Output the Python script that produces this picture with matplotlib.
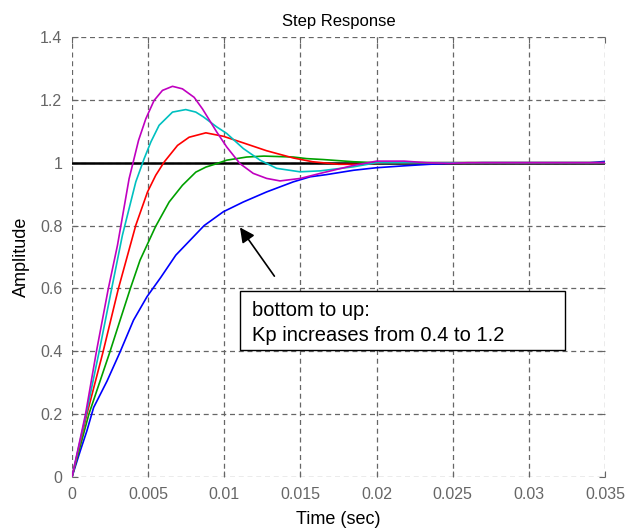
import matplotlib
matplotlib.use("Agg")
import matplotlib.pyplot as plt
from matplotlib.patches import Rectangle

plt.rcParams["font.family"] = ["Liberation Sans", "DejaVu Sans"]

# step responses, one per Kp value (bottom to top)
T_BLUE = [0, 0.00055, 0.00098, 0.00142, 0.0023, 0.00316, 0.00404, 0.00493, 0.00583, 0.00682,
          0.00868, 0.00994, 0.01125, 0.01278, 0.01453, 0.01563, 0.0167, 0.0185, 0.0200, 0.0218,
          0.0235, 0.0248, 0.027, 0.030, 0.034, 0.035]
Y_BLUE = [0, 0.084, 0.147, 0.221, 0.305, 0.398, 0.499, 0.574, 0.635, 0.706,
          0.800, 0.844, 0.875, 0.907, 0.939, 0.955, 0.962, 0.976, 0.984, 0.990,
          0.995, 0.998, 1.0, 1.0, 1.0, 1.004]

T_GREEN = [0, 0.00111, 0.00249, 0.00316, 0.00382, 0.00447, 0.00549, 0.00638, 0.00725, 0.00813,
           0.00879, 0.0095, 0.01016, 0.01147, 0.0126, 0.01453, 0.0154, 0.0165, 0.0185, 0.020, 0.035]
Y_GREEN = [0, 0.2, 0.398, 0.499, 0.598, 0.690, 0.797, 0.875, 0.928, 0.970,
           0.986, 0.997, 1.008, 1.018, 1.021, 1.018, 1.013, 1.010, 1.003, 1.0, 1.0]

T_RED = [0, 0.00098, 0.00204, 0.00304, 0.00419, 0.00496, 0.0055, 0.00605, 0.00693, 0.00769,
         0.00879, 0.00994, 0.01125, 0.01278, 0.01453, 0.0158, 0.0175, 0.019, 0.0205, 0.035]
Y_RED = [0, 0.2, 0.398, 0.598, 0.801, 0.907, 0.960, 1.002, 1.055, 1.081,
         1.095, 1.084, 1.063, 1.038, 1.015, 1.003, 0.995, 0.995, 1.0, 1.0]

T_CYAN = [0, 0.00093, 0.00178, 0.0026, 0.00331, 0.00375, 0.00419, 0.00474, 0.00518, 0.00572,
          0.0066, 0.00747, 0.00813, 0.00862, 0.0095, 0.01016, 0.01125, 0.01235, 0.01344, 0.01497,
          0.0163, 0.0185, 0.020, 0.035]
Y_CYAN = [0, 0.2, 0.398, 0.598, 0.769, 0.854, 0.939, 1.013, 1.066, 1.119,
          1.161, 1.169, 1.161, 1.146, 1.114, 1.093, 1.045, 1.008, 0.982, 0.971,
          0.974, 0.987, 1.0, 1.0]

T_MAGENTA = [0, 0.00089, 0.0016, 0.00238, 0.00299, 0.00375, 0.00401, 0.00437, 0.00485, 0.00539,
             0.00594, 0.0066, 0.00725, 0.00802, 0.00857, 0.0095, 0.01016, 0.01103, 0.0119, 0.01278,
             0.01366, 0.015, 0.0163, 0.01845, 0.020, 0.0218, 0.0233, 0.0248, 0.026, 0.035]
Y_MAGENTA = [0, 0.2, 0.398, 0.598, 0.738, 0.949, 1.0, 1.071, 1.140, 1.198,
             1.230, 1.243, 1.235, 1.208, 1.171, 1.098, 1.050, 0.997, 0.966, 0.950,
             0.942, 0.950, 0.966, 0.991, 1.005, 1.005, 1.0, 0.998, 1.0, 1.0]

X_TICKS = [0, 0.005, 0.01, 0.015, 0.02, 0.025, 0.03, 0.035]
X_TICK_LABELS = ["0", "0.005", "0.01", "0.015", "0.02", "0.025", "0.03", "0.035"]
Y_TICKS = [0, 0.2, 0.4, 0.6, 0.8, 1.0, 1.2, 1.4]
Y_TICK_LABELS = ["0", "0.2", "0.4", "0.6", "0.8", "1", "1.2", "1.4"]

NOTE_LINES = ["bottom to up:", "Kp increases from 0.4 to 1.2"]

CURVES = [
    (T_BLUE, Y_BLUE, "#0000ff"),
    (T_GREEN, Y_GREEN, "#00a000"),
    (T_RED, Y_RED, "#ff0000"),
    (T_CYAN, Y_CYAN, "#00c0c0"),
    (T_MAGENTA, Y_MAGENTA, "#c000c0"),
]

fig = plt.figure(figsize=(6.27, 5.32), dpi=100)
ax = fig.add_axes([0.1148, 0.1034, 0.8502, 0.8271])

ax.axhline(1.0, color="black", linewidth=1.8, zorder=2)
for t, y, colour in CURVES:
    ax.plot(t, y, color=colour, linewidth=1.2, zorder=3, solid_joinstyle="round")

ax.set_xlim(0, 0.035)
ax.set_ylim(0, 1.4)
ax.set_xticks(X_TICKS)
ax.set_xticklabels(X_TICK_LABELS)
ax.set_yticks(Y_TICKS)
ax.set_yticklabels(Y_TICK_LABELS)

ax.grid(True, color="#666666", linestyle=(0, (4, 3)), linewidth=0.9)
for s in ax.spines.values():
    s.set_visible(False)
ax.tick_params(direction="in", length=4, colors="#666666", labelsize=11.5,
               top=True, right=True, labelcolor="#666666", pad=7)

ax.set_title("Step Response", fontsize=12, pad=8)
ax.set_xlabel("Time (sec)", fontsize=13, labelpad=7)
ax.set_ylabel("Amplitude", fontsize=13, labelpad=7)

ax.annotate("", xy=(0.01103, 0.794), xytext=(0.01329, 0.639),
            arrowprops=dict(arrowstyle="-|>", color="black", lw=1.2,
                            mutation_scale=22, shrinkA=0, shrinkB=0))

# fixed-size note box, text placed inside it
ax.add_patch(Rectangle((0.01103, 0.404), 0.02134, 0.188, facecolor="white",
                       edgecolor="black", linewidth=1.0, zorder=5))
ax.text(0.01181, 0.531, NOTE_LINES[0], fontsize=14.5, va="center", ha="left", zorder=6)
ax.text(0.01181, 0.451, NOTE_LINES[1], fontsize=14.5, va="center", ha="left", zorder=6)

fig.savefig("out.png", dpi=100)
